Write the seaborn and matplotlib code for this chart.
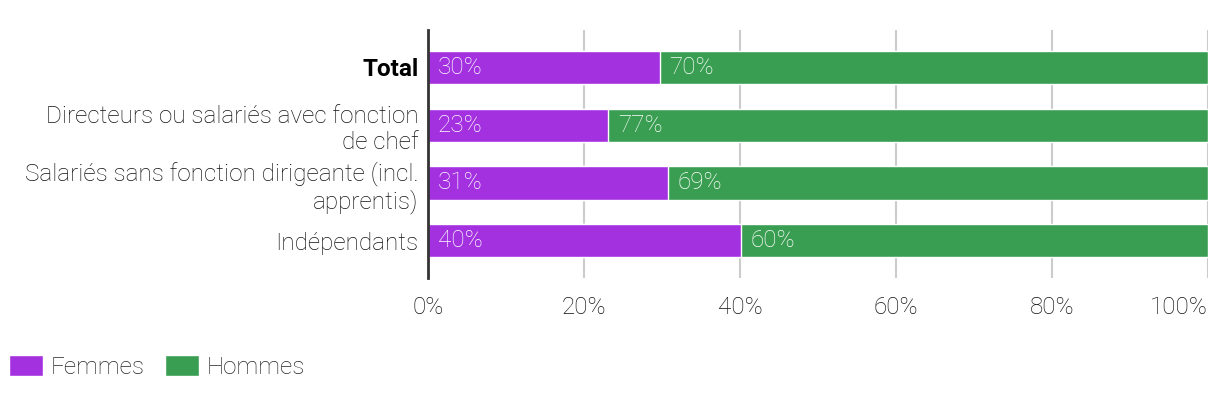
import pandas as pd
import matplotlib.pyplot as plt
import seaborn as sns
from matplotlib.patches import Patch
from matplotlib.ticker import PercentFormatter

# --- data ---------------------------------------------------------
categories = [
    "Total",
    "Directeurs ou salariés avec fonction\nde chef",
    "Salariés sans fonction dirigeante (incl.\napprentis)",
    "Indépendants",
]
femmes = [29.7, 23.1, 30.8, 40.1]
hommes = [70.3, 76.9, 69.2, 59.9]
series_names = ["Femmes", "Hommes"]
colors = ["#a331e0", "#3a9e52"]

df = pd.DataFrame({"categorie": categories, "Femmes": femmes, "Hommes": hommes})
df["cumul"] = df["Femmes"] + df["Hommes"]

# --- style --------------------------------------------------------
sns.set_theme(style="white")
plt.rcParams["font.family"] = ["Roboto", "DejaVu Sans"]
plt.rcParams["font.weight"] = "light"
FS = 17.5

fig = plt.figure(figsize=(12.2, 3.98), dpi=100)
ax = fig.add_axes([0.3508, 0.3015, 0.6393, 0.623])
ax.set_axisbelow(True)

# stacked: draw the full bar (green) then the women share on top (purple)
sns.barplot(data=df, y="categorie", x="cumul", color=colors[1], orient="h",
            width=0.57, ax=ax, saturation=1)
sns.barplot(data=df, y="categorie", x="Femmes", color=colors[0], orient="h",
            width=0.57, ax=ax, saturation=1)

# value labels, written inside each segment near its left edge
for i, row in df.iterrows():
    ax.annotate(f"{row['Femmes']:.0f}%", xy=(0, i), xytext=(7, 0),
                textcoords="offset points", va="center", ha="left",
                color="white", fontsize=FS, fontweight="light", zorder=4)
    ax.annotate(f"{row['Hommes']:.0f}%", xy=(row["Femmes"], i), xytext=(7, 0),
                textcoords="offset points", va="center", ha="left",
                color="white", fontsize=FS, fontweight="light", zorder=4)

ax.set_xlim(0, 100)
ax.set_ylim(3.64, -0.64)
ax.set_xticks([0, 20, 40, 60, 80, 100])
ax.xaxis.set_major_formatter(PercentFormatter(decimals=0))
ax.set_xlabel("")
ax.set_ylabel("")

ax.grid(axis="x", color="#cccccc", linewidth=1.5)
for s in ["top", "right", "bottom"]:
    ax.spines[s].set_visible(False)
ax.spines["left"].set_color("#333333")
ax.spines["left"].set_linewidth(2)

ax.tick_params(axis="both", length=0, labelsize=FS, colors="#111111")
ax.tick_params(axis="x", pad=13)
ax.tick_params(axis="y", pad=7)
for lbl in ax.get_yticklabels():
    lbl.set_fontweight("light")
    lbl.set_multialignment("right")
    if lbl.get_text() == "Total":
        lbl.set_fontweight("bold")
        lbl.set_color("black")
for lbl in ax.get_xticklabels():
    lbl.set_fontweight("light")
ax.get_xticklabels()[-1].set_horizontalalignment("right")

handles = [Patch(facecolor=c, label=n) for c, n in zip(colors, series_names)]
fig.legend(handles=handles, loc="lower left", bbox_to_anchor=(-0.0065, 0.005),
           ncol=2, frameon=False, handlelength=1.4,
           handleheight=0.95, handletextpad=0.3, columnspacing=0.85,
           borderaxespad=0.3, prop={"size": FS, "weight": "light"})

fig.savefig("out.png", dpi=100)
